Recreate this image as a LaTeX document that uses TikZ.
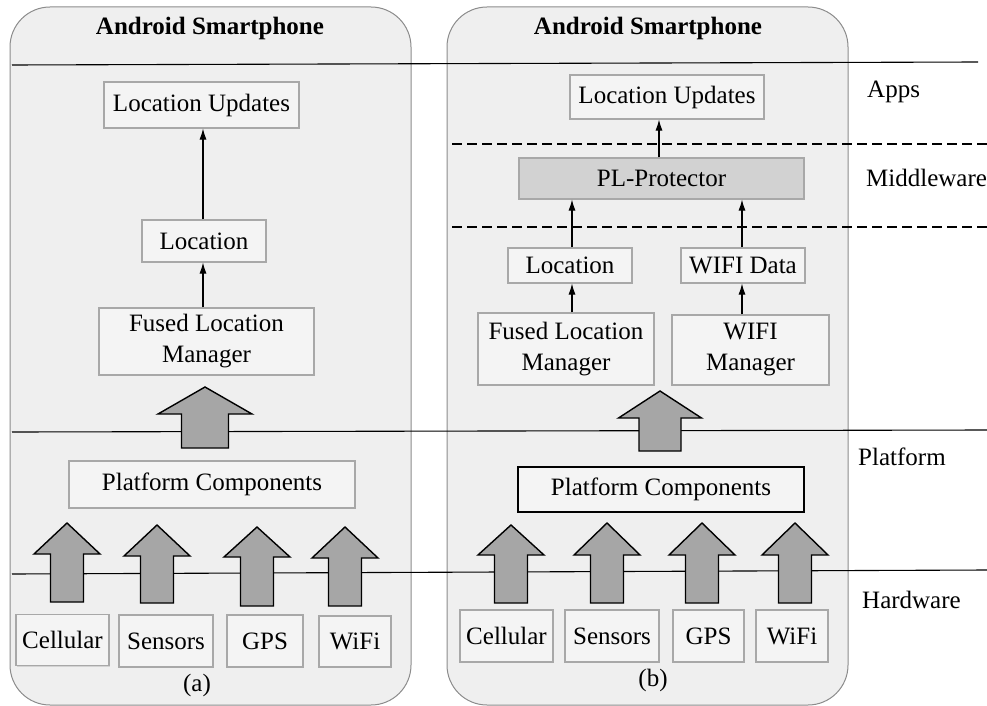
\documentclass[tikz,border=0pt]{standalone}
\usepackage{fontspec}
\setmainfont{Liberation Serif}
\usetikzlibrary{shadows,arrows.meta}
\definecolor{phonefill}{HTML}{EFEFEF}
\definecolor{phoneline}{HTML}{8C8C8C}
\definecolor{boxfill}{HTML}{F4F4F4}
\definecolor{boxline}{HTML}{A8A8A8}
\definecolor{plfill}{HTML}{D2D2D2}
\definecolor{arrfill}{HTML}{A6A6A6}
\newcommand\upblk[6]{%
  \filldraw[bigarr] (#1,#2) -- (#1+#5,#3) -- (#1+#6,#3) -- (#1+#6,#4)
     -- (#1-#6,#4) -- (#1-#6,#3) -- (#1-#5,#3) -- cycle;}
\begin{document}
\begin{tikzpicture}[x=1pt,y=-1pt,
  txt/.style={font=\fontsize{25}{31}\selectfont, inner sep=0pt},
  phone/.style={draw=phoneline, fill=phonefill, line width=1pt, rounded corners=40pt},
  box/.style={txt, draw=boxline, fill=boxfill, line width=1.1pt, align=center,
     drop shadow={shadow xshift=1.2pt, shadow yshift=-1.2pt, opacity=0.25}},
  plbox/.style={box, fill=plfill, draw=boxline},
  blackbox/.style={box, draw=black},
  title/.style={txt, font=\fontsize{25}{31}\selectfont\bfseries},
  layer/.style={txt, anchor=west},
  sep/.style={black, line width=1.1pt},
  dsep/.style={black, line width=1.1pt, dash pattern=on 10pt off 5pt},
  conn/.style={-{Latex[length=11pt,width=7pt]}, line width=1.1pt, black},
  bigarr/.style={fill=arrfill, draw=black, line width=1.4pt, line join=miter}
]
\useasboundingbox (0,0) rectangle (987,706);

% phones
\draw[phone] (10,7) rectangle (411,705);
\draw[phone] (447,7) rectangle (848,705);

% layer lines
\coordinate (appsL) at (12,65);   \coordinate (appsR) at (978,62);
\coordinate (platL) at (12,432);  \coordinate (platR) at (987,430);
\coordinate (hwL) at (12,574);    \coordinate (hwR) at (987,570);
\coordinate (d1L) at (452,144);   \coordinate (d1R) at (987,144);
\coordinate (d2L) at (452,227);   \coordinate (d2R) at (987,227);
\draw[sep] (appsL) -- (appsR);
\draw[sep] (platL) -- (platR);
\draw[sep] (hwL) -- (hwR);
\draw[dsep] (d1L) -- (d1R);
\draw[dsep] (d2L) -- (d2R);

% titles and captions
\node[title] (ta) at (210,28) {Android Smartphone};
\node[title] (tb) at (648,28) {Android Smartphone};
\node[txt] (capa) at (197,685) {(a)};
\node[txt] (capb) at (653,680) {(b)};

% layer labels
\node[layer] (lapps) at (867,92) {Apps};
\node[layer] (lmid) at (866,178) {Middleware};
\node[layer] (lplat) at (858,457) {Platform};
\node[layer] (lhw) at (862,600) {Hardware};

% left phone
\node[box, minimum width=195pt, minimum height=46pt] (LUa) at (201.5,105) {Location Updates};
\node[box, minimum width=124pt, minimum height=42pt] (Loca) at (204,241) {Location};
\node[box, minimum width=215pt, minimum height=67pt] (FLMa) at (206.5,341.5) {Fused Location\\Manager};
\node[box, minimum width=286pt, minimum height=47pt] (PCa) at (212,484.5) {Platform Components};
\node[box, minimum width=93pt, minimum height=51pt] (Cella) at (62.5,640) {Cellular};
\node[box, minimum width=94pt, minimum height=52pt] (Sensa) at (166,641) {Sensors};
\node[box, minimum width=76pt, minimum height=52pt] (GPSa) at (265,641) {GPS};
\node[box, minimum width=72pt, minimum height=51pt] (WiFia) at (355,641.5) {WiFi};

\draw[conn] (Loca.north -| 203,0) -- (LUa.south -| 203,0);
\draw[conn] (FLMa.north -| 203,0) -- (Loca.south -| 203,0);

\upblk{205}{387}{414}{448}{47}{23.5}
\upblk{67}{523}{554}{602}{33}{16.5}
\upblk{157}{525}{556}{603}{33}{16.5}
\upblk{257}{527}{557}{606}{33}{16.5}
\upblk{345}{527}{558}{606}{33}{16.5}

% right phone
\node[box, minimum width=194pt, minimum height=44pt] (LUb) at (667,97) {Location Updates};
\node[plbox, minimum width=285pt, minimum height=41pt] (PL) at (661.5,178.5) {PL-Protector};
\node[box, minimum width=124pt, minimum height=35pt] (Locb) at (570,265.5) {Location};
\node[box, minimum width=124pt, minimum height=35pt] (WD) at (743,265.5) {WIFI Data};
\node[box, minimum width=176pt, minimum height=72pt] (FLMb) at (566,349) {Fused Location\\Manager};
\node[box, minimum width=157pt, minimum height=70pt] (WM) at (750.5,350) {WIFI\\Manager};
\node[blackbox, minimum width=286pt, minimum height=45pt] (PCb) at (661,489.5) {Platform Components};
\node[box, minimum width=93pt, minimum height=52pt] (Cellb) at (506.5,636) {Cellular};
\node[box, minimum width=94pt, minimum height=52pt] (Sensb) at (612,636) {Sensors};
\node[box, minimum width=71pt, minimum height=52pt] (GPSb) at (708.5,636) {GPS};
\node[box, minimum width=72pt, minimum height=52pt] (WiFib) at (792,636) {WiFi};

\draw[conn] (PL.north -| 659,0) -- (LUb.south -| 659,0);
\draw[conn] (Locb.north -| 572,0) -- (PL.south -| 572,0);
\draw[conn] (WD.north -| 742,0) -- (PL.south -| 742,0);
\draw[conn] (FLMb.north -| 572,0) -- (Locb.south -| 572,0);
\draw[conn] (WM.north -| 742,0) -- (WD.south -| 742,0);

\upblk{660}{391}{418}{451}{41.5}{21}
\upblk{511}{525}{555}{603}{33}{16.5}
\upblk{607}{523}{555}{603}{33}{16.5}
\upblk{702}{523}{555}{603}{33}{16.5}
\upblk{795}{523}{555}{603}{33}{16.5}
\end{tikzpicture}
\end{document}
